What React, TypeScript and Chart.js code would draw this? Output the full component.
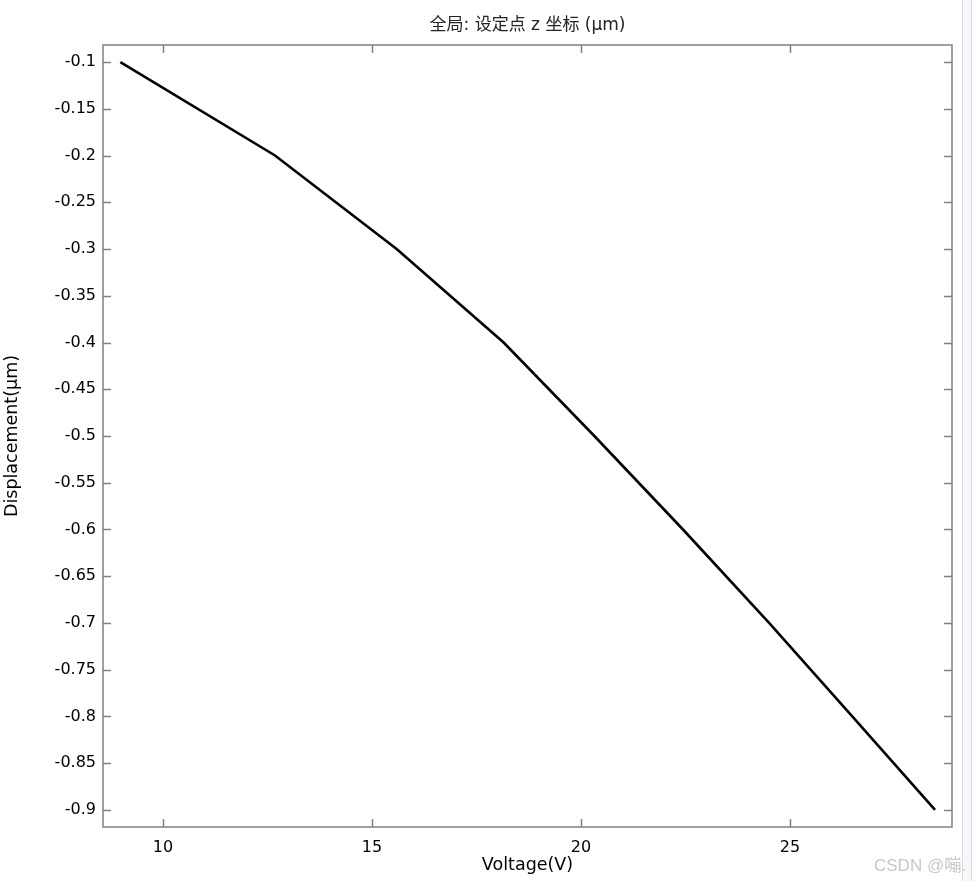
import React, { useEffect, useRef } from "react";
import { Chart, registerables } from "chart.js";

Chart.register(...registerables);

const TITLE = "全局: 设定点 z 坐标 (µm)";
const X_LABEL = "Voltage(V)";
const Y_LABEL = "Displacement(µm)";
const WATERMARK = "CSDN @嘣.";

const voltage = [8.98, 12.68, 15.59, 18.15, 20.32, 22.44, 24.5, 26.49, 28.47];
const displacement = [-0.1, -0.2, -0.3, -0.4, -0.5, -0.6, -0.7, -0.8, -0.9];

const X_TICKS = [10, 15, 20, 25];
const Y_TICKS = [-0.1, -0.15, -0.2, -0.25, -0.3, -0.35, -0.4, -0.45, -0.5, -0.55, -0.6, -0.65, -0.7, -0.75, -0.8, -0.85, -0.9];

const X_MIN = 8.565;
const X_MAX = 28.876;
const Y_MIN = -0.9182;
const Y_MAX = -0.0818;

const FONT = "'DejaVu Sans', 'Noto Sans CJK SC', sans-serif";

const framePlugin = {
  id: "frameTicks",
  afterDraw(chart: any) {
    const { ctx, chartArea } = chart;
    const { left, right, top, bottom } = chartArea;
    const xs = chart.scales.x;
    const ys = chart.scales.y;
    const len = 8;
    ctx.save();
    ctx.strokeStyle = "#808080";
    ctx.lineWidth = 1.5;
    ctx.beginPath();
    X_TICKS.forEach((v) => {
      const px = Math.round(xs.getPixelForValue(v)) + 0.5;
      ctx.moveTo(px, bottom);
      ctx.lineTo(px, bottom - len);
      ctx.moveTo(px, top);
      ctx.lineTo(px, top + len);
    });
    Y_TICKS.forEach((v) => {
      const py = Math.round(ys.getPixelForValue(v)) + 0.5;
      ctx.moveTo(left, py);
      ctx.lineTo(left + len, py);
      ctx.moveTo(right, py);
      ctx.lineTo(right - len, py);
    });
    ctx.stroke();
    ctx.strokeRect(left, top, right - left, bottom - top);
    ctx.fillStyle = "#222222";
    ctx.font = "17px " + FONT;
    ctx.textAlign = "center";
    ctx.textBaseline = "middle";
    ctx.fillText(TITLE, (left + right) / 2, 26);
    ctx.restore();
  },
};

export default function App() {
  const ref = useRef<HTMLCanvasElement | null>(null);
  useEffect(() => {
    if (!ref.current) return;
    const chart = new Chart(ref.current, {
      type: "line",
      data: {
        datasets: [
          {
            data: voltage.map((v, i) => ({ x: v, y: displacement[i] })),
            borderColor: "#000000",
            borderWidth: 2.6,
            pointRadius: 0,
            tension: 0,
            fill: false,
          },
        ],
      },
      options: {
        responsive: false,
        animation: false,
        devicePixelRatio: 1,
        layout: { padding: { left: 0, right: 22, top: 45, bottom: 0 } },
        plugins: {
          legend: { display: false },
          tooltip: { enabled: false },
          title: { display: false },
        },
        scales: {
          x: {
            type: "linear",
            min: X_MIN,
            max: X_MAX,
            grid: { display: false, drawTicks: false },
            border: { display: false },
            afterBuildTicks: (s: any) => {
              s.ticks = X_TICKS.map((v) => ({ value: v }));
            },
            afterFit: (s: any) => {
              s.height = 54;
            },
            ticks: {
              color: "#000000",
              font: { family: FONT, size: 16 },
              padding: 11,
              maxRotation: 0,
              callback: (v: any) => String(v),
            },
            title: {
              display: true,
              text: X_LABEL,
              color: "#000000",
              font: { family: FONT, size: 17.5 },
              padding: { top: 0, bottom: 5 },
            },
          },
          y: {
            type: "linear",
            min: Y_MIN,
            max: Y_MAX,
            grid: { display: false, drawTicks: false },
            border: { display: false },
            afterBuildTicks: (s: any) => {
              s.ticks = Y_TICKS.map((v) => ({ value: v }));
            },
            afterFit: (s: any) => {
              s.width = 103;
            },
            ticks: {
              color: "#000000",
              font: { family: FONT, size: 16 },
              padding: 7,
              callback: (v: any) => String(Math.round(Number(v) * 100) / 100),
            },
            title: {
              display: true,
              text: Y_LABEL,
              color: "#000000",
              font: { family: FONT, size: 17.5 },
              padding: { top: 2, bottom: 0 },
            },
          },
        },
      },
      plugins: [framePlugin],
    } as any);
    return () => chart.destroy();
  }, []);

  return (
    <div style={{ position: "fixed", left: 0, top: 0, width: 974, height: 881, background: "#ffffff" }}>
      <canvas ref={ref} width={974} height={881} style={{ display: "block" }} />
      <div
        style={{
          position: "absolute",
          left: 962,
          top: 0,
          width: 8,
          height: 881,
          background: "#f7f8fc",
          borderLeft: "1px solid #dcdcdc",
          borderRight: "1px solid #dcdcdc",
        }}
      />
      <div
        style={{
          position: "absolute",
          left: 874,
          top: 851,
          fontFamily: "Arial, 'Liberation Sans', 'Noto Sans CJK SC', sans-serif",
          fontSize: 17,
          color: "#c8c8c8",
          whiteSpace: "nowrap",
        }}
      >
        {WATERMARK}
      </div>
    </div>
  );
}
